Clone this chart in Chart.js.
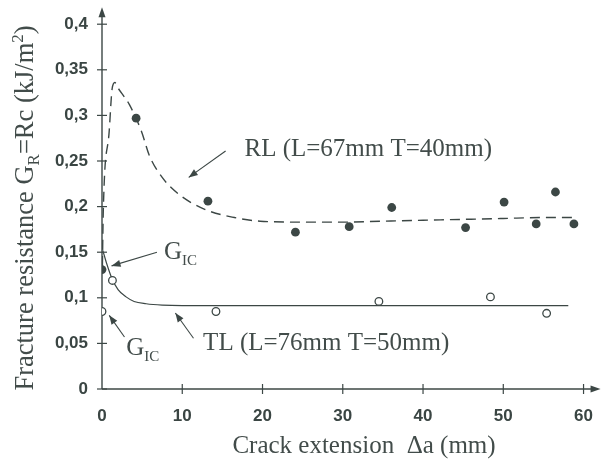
<!DOCTYPE html>
<html><head><meta charset="utf-8">
<script src="https://cdn.jsdelivr.net/npm/chart.js@4.4.0/dist/chart.umd.min.js"></script>
<style>html,body{margin:0;padding:0;background:#fff;}#wrap{width:610px;height:465px;}</style>
</head><body><div id="wrap"><canvas id="c" width="610" height="465"></canvas></div>
<script>
// ---- data ----
const xTickValues = [0, 10, 20, 30, 40, 50, 60];
const xTickLabels = ['0', '10', '20', '30', '40', '50', '60'];
const yTickValues = [0, 0.05, 0.1, 0.15, 0.2, 0.25, 0.3, 0.35, 0.4];
const yTickLabels = ['0', '0,05', '0,1', '0,15', '0,2', '0,25', '0,3', '0,35', '0,4'];

// RL specimen: measured points (filled)
const rlX = [0, 4.25, 13.2, 24.1, 30.8, 36.1, 45.3, 50.1, 54.1, 56.5, 58.8];
const rlY = [0.131, 0.297, 0.206, 0.172, 0.178, 0.199, 0.177, 0.205, 0.181, 0.216, 0.181];
// TL specimen: measured points (open)
const tlX = [0, 1.3, 14.2, 34.5, 48.4, 55.4];
const tlY = [0.085, 0.119, 0.085, 0.096, 0.101, 0.083];
// RL fitted R-curve (dashed)
const rlFitX = [0.05, 0.16, 0.9, 1.26, 1.6, 2.0, 2.8, 3.4, 4.9, 5.9, 7.5, 9.5, 12.8, 16.5, 19.7, 25, 30, 35, 40, 45, 50, 55, 58.6];
const rlFitY = [0.135, 0.195, 0.283, 0.329, 0.336, 0.330, 0.320, 0.312, 0.283, 0.256, 0.232, 0.214, 0.197, 0.188, 0.184, 0.183, 0.183, 0.184, 0.185, 0.186, 0.187, 0.188, 0.188];
// TL fitted R-curve (solid)
const tlFitX = [0.1, 0.6, 1.2, 2, 3, 4, 5.5, 7.5, 10, 20, 30, 40, 50, 58.1];
const tlFitY = [0.152, 0.137, 0.122, 0.109, 0.101, 0.096, 0.0935, 0.092, 0.0915, 0.0915, 0.0915, 0.0915, 0.0915, 0.0915];

const xTitle = 'Crack extension  \u0394a (mm)';
const rlLabel = 'RL (L=67mm T=40mm)';
const tlLabel = 'TL (L=76mm T=50mm)';

const INK = '#3c4745';
const TXT = '#424c4a';
const SERIF = '"Liberation Serif", "DejaVu Serif", serif';

const zip = (xs, ys) => xs.map((x, i) => ({x, y: ys[i]}));

function arrow(ctx, x1, y1, x2, y2, len, half) {
  ctx.beginPath(); ctx.moveTo(x1, y1); ctx.lineTo(x2, y2); ctx.stroke();
  const a = Math.atan2(y2 - y1, x2 - x1);
  ctx.beginPath();
  ctx.moveTo(x2, y2);
  ctx.lineTo(x2 - len * Math.cos(a) + half * Math.sin(a), y2 - len * Math.sin(a) - half * Math.cos(a));
  ctx.lineTo(x2 - len * Math.cos(a) - half * Math.sin(a), y2 - len * Math.sin(a) + half * Math.cos(a));
  ctx.closePath(); ctx.fill();
}

const axesPlugin = {
  id: 'axesPlugin',
  beforeDatasetsDraw(chart) {
    const {ctx, chartArea: ca, scales: {x, y}} = chart;
    ctx.save();
    ctx.strokeStyle = INK; ctx.fillStyle = INK; ctx.lineWidth = 1.4;
    const x0 = x.getPixelForValue(0), y0 = y.getPixelForValue(0);
    // y axis with arrow
    ctx.beginPath(); ctx.moveTo(x0, y0); ctx.lineTo(x0, ca.top - 10); ctx.stroke();
    ctx.beginPath(); ctx.moveTo(x0, ca.top - 17); ctx.lineTo(x0 - 3.5, ca.top - 7); ctx.lineTo(x0 + 3.5, ca.top - 7); ctx.closePath(); ctx.fill();
    // x axis with arrow
    ctx.beginPath(); ctx.moveTo(x0, y0); ctx.lineTo(ca.right + 10, y0); ctx.stroke();
    ctx.beginPath(); ctx.moveTo(ca.right + 17, y0); ctx.lineTo(ca.right + 7, y0 - 3.5); ctx.lineTo(ca.right + 7, y0 + 3.5); ctx.closePath(); ctx.fill();
    ctx.lineWidth = 1.2;
    yTickValues.forEach(v => { const p = y.getPixelForValue(v); ctx.beginPath(); ctx.moveTo(x0 - 5, p); ctx.lineTo(x0 + 5, p); ctx.stroke(); });
    xTickValues.forEach(v => { if (v === 0) return; const p = x.getPixelForValue(v); ctx.beginPath(); ctx.moveTo(p, y0 - 5); ctx.lineTo(p, y0 + 5); ctx.stroke(); });
    ctx.restore();
  },
  afterDatasetsDraw(chart) {
    const {ctx, scales: {x, y}} = chart;
    const px = v => x.getPixelForValue(v), py = v => y.getPixelForValue(v);
    ctx.save();
    ctx.fillStyle = TXT; ctx.strokeStyle = INK; ctx.lineWidth = 1.1;
    ctx.textBaseline = 'alphabetic'; ctx.textAlign = 'left';
    // RL label + arrow
    ctx.font = '25px ' + SERIF;
    ctx.fillText(rlLabel, px(17.75), py(0.255));
    ctx.fillStyle = INK;
    arrow(ctx, px(15.4), py(0.261), px(10.8), py(0.232), 9, 3.5);
    // TL label + arrow
    ctx.fillStyle = TXT;
    ctx.fillText(tlLabel, px(12.6), py(0.0426));
    ctx.fillStyle = INK;
    arrow(ctx, px(11.4), py(0.0557), px(9.14), py(0.0833), 9, 3.5);
    // G_IC labels
    const gic = (gx, gy) => {
      ctx.fillStyle = TXT;
      ctx.font = '25px ' + SERIF;
      ctx.fillText('G', px(gx), py(gy));
      const w = ctx.measureText('G').width;
      ctx.font = '15px ' + SERIF;
      ctx.fillText('IC', px(gx) + w, py(gy) + 6);
    };
    gic(7.71, 0.143);
    ctx.fillStyle = INK;
    arrow(ctx, px(6.85), py(0.150), px(1.19), py(0.135), 9, 3.5);
    gic(3.02, 0.0372);
    ctx.fillStyle = INK;
    arrow(ctx, px(2.8), py(0.057), px(0.9), py(0.0808), 9, 3.5);

    // axis titles
    ctx.fillStyle = TXT;
    ctx.font = '25px ' + SERIF;
    ctx.textAlign = 'center';
    ctx.fillText(xTitle, 364, 453);

    // y title with subscript / superscript
    ctx.save();
    ctx.translate(33, 208);
    ctx.rotate(-Math.PI / 2);
    const big = '26.5px ' + SERIF, small = '17px ' + SERIF;
    const parts = [
      ['Fracture resistance G', big, 0],
      ['R', small, 6],
      ['=Rc (kJ/m', big, 0],
      ['2', small, -10],
      [')', big, 0]
    ];
    let total = 0;
    parts.forEach(p => { ctx.font = p[1]; total += ctx.measureText(p[0]).width; });
    let cx = -total / 2;
    ctx.textAlign = 'left';
    parts.forEach(p => { ctx.font = p[1]; ctx.fillText(p[0], cx, p[2]); cx += ctx.measureText(p[0]).width; });
    ctx.restore();
    ctx.restore();
  }
};

const tickFont = {family: '"Liberation Sans", Arial, sans-serif', size: 17, weight: 'bold'};

new Chart(document.getElementById('c'), {
  type: 'scatter',
  data: {
    datasets: [
      {label: 'RL points', data: zip(rlX, rlY), pointRadius: 4.4, pointBackgroundColor: INK, pointBorderColor: INK, pointBorderWidth: 0, showLine: false},
      {label: 'TL points', data: zip(tlX, tlY), pointRadius: 3.8, pointBackgroundColor: '#ffffff', pointBorderColor: INK, pointBorderWidth: 1.3, showLine: false},
      {label: 'RL fit', data: zip(rlFitX, rlFitY), showLine: true, borderColor: INK, borderWidth: 1.4, borderDash: [10, 6], pointRadius: 0, cubicInterpolationMode: 'monotone', fill: false},
      {label: 'TL fit', data: zip(tlFitX, tlFitY), showLine: true, borderColor: INK, borderWidth: 1.2, pointRadius: 0, cubicInterpolationMode: 'monotone', fill: false}
    ]
  },
  options: {
    responsive: false,
    animation: false,
    devicePixelRatio: 1,
    layout: {padding: {top: 23, right: 18, left: 0, bottom: 0}},
    plugins: {legend: {display: false}, tooltip: {enabled: false}},
    scales: {
      x: {
        type: 'linear', min: 0, max: 60,
        afterBuildTicks: s => { s.ticks = xTickValues.map(v => ({value: v})); },
        afterFit: s => { s.height = 76; },
        grid: {display: false, drawTicks: false},
        border: {display: false},
        ticks: {font: tickFont, color: '#3a4543', padding: 17, maxRotation: 0, callback: (v, i) => xTickLabels[i]}
      },
      y: {
        type: 'linear', min: 0, max: 0.4,
        afterBuildTicks: s => { s.ticks = yTickValues.map(v => ({value: v})); },
        afterFit: s => { s.width = 102; },
        grid: {display: false, drawTicks: false},
        border: {display: false},
        ticks: {font: tickFont, color: '#3a4543', padding: 14, callback: (v, i) => yTickLabels[i]}
      }
    }
  },
  plugins: [axesPlugin]
});
</script></body></html>
